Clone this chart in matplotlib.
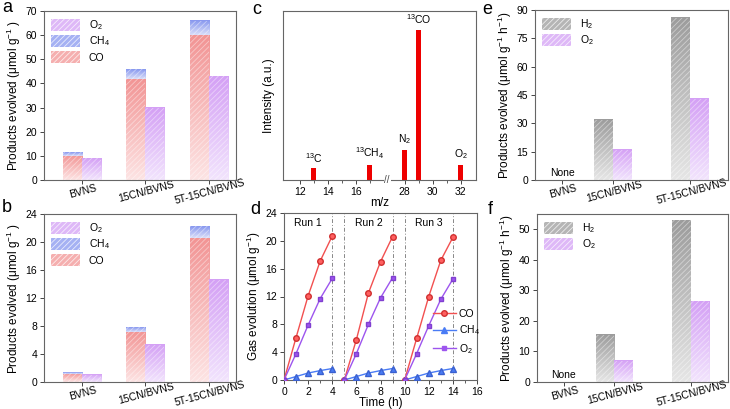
import numpy as np
import matplotlib
matplotlib.use('Agg')
import matplotlib.pyplot as plt
from matplotlib.colors import LinearSegmentedColormap
from matplotlib.patches import Patch
from matplotlib.lines import Line2D

plt.rcParams['font.family'] = ['Liberation Sans', 'DejaVu Sans']
plt.rcParams['mathtext.fontset'] = 'custom'
plt.rcParams['mathtext.rm'] = 'Liberation Sans'
plt.rcParams['mathtext.it'] = 'Liberation Sans:italic'
plt.rcParams['mathtext.default'] = 'regular'
plt.rcParams['hatch.linewidth'] = 0.6
plt.rcParams['axes.edgecolor'] = '#666666'
plt.rcParams['axes.linewidth'] = 0.8
plt.rcParams['xtick.color'] = '#444444'
plt.rcParams['ytick.color'] = '#444444'
plt.rcParams['xtick.labelcolor'] = 'black'
plt.rcParams['ytick.labelcolor'] = 'black'

# data
samples = ['BVNS', '15CN/BVNS', '5T-15CN/BVNS']

a_co = [10, 42, 60]
a_ch4 = [1.5, 4, 6]
a_o2 = [9, 30, 43]

b_co = [1.2, 7.2, 20.6]
b_ch4 = [0.15, 0.7, 1.7]
b_o2 = [1.05, 5.3, 14.6]

c_mz = [13, 17, 28, 29, 32]
c_int = [7, 9, 18, 89, 9]
c_lab = [r'$^{13}$C', r'$^{13}$CH$_4$', r'N$_2$', r'$^{13}$CO', r'O$_2$']
c_ticks = [12, 14, 16, 28, 30, 32]

d_time = [[0, 1, 2, 3, 4], [5, 6, 7, 8, 9], [10, 11, 12, 13, 14]]
d_co = [[0, 6.1, 12.1, 17.1, 20.7], [0, 5.8, 12.5, 17.0, 20.6], [0, 6.0, 12.0, 17.2, 20.5]]
d_ch4 = [[0, 0.5, 1.0, 1.35, 1.65], [0, 0.5, 1.0, 1.35, 1.65], [0, 0.5, 1.0, 1.35, 1.65]]
d_o2 = [[0, 3.8, 7.9, 11.7, 14.6], [0, 3.8, 8.0, 11.8, 14.7], [0, 3.8, 7.8, 11.6, 14.5]]
d_runs = ['Run 1', 'Run 2', 'Run 3']

e_h2 = [0, 32, 86]
e_o2 = [0, 16, 43]

f_h2 = [0, 15.5, 53]
f_o2 = [0, 7, 26.5]

# colours (top, bottom of gradient)
CO_C = ('#f29494', '#fde4e4')
CH4_C = ('#8797ef', '#d9def9')
O2_C = ('#d4a0f5', '#f2e4fd')
H2_C = ('#9c9c9c', '#e6e6e6')


def grad_bar(ax, x, bottom, height, width, cols):
    if height <= 0:
        return
    cmap = LinearSegmentedColormap.from_list('g', [cols[1], cols[0]])
    grad = np.linspace(0, 1, 100).reshape(-1, 1)
    ax.imshow(grad, extent=[x - width / 2, x + width / 2, bottom, bottom + height],
              origin='lower', aspect='auto', cmap=cmap, zorder=2)
    ax.bar(x, height, width, bottom=bottom, facecolor='none',
           edgecolor=(1, 1, 1, 0.45), hatch='//////', lw=0, zorder=3)


def leg_patch(cols):
    return Patch(facecolor=cols[0], edgecolor=(1, 1, 1, 0.45), hatch='//////', lw=0, alpha=0.75)


def style_ax(ax):
    ax.tick_params(direction='out', length=3, width=0.7, labelsize=7.5, pad=2)
    ax.tick_params(which='minor', direction='out', length=1.8, width=0.6)


def rot_labels(ax):
    ax.set_xticklabels(samples, rotation=15, ha='center', va='top', rotation_mode='anchor')
    ax.tick_params(axis='x', pad=3)


fig = plt.figure(figsize=(7.3, 4.09), dpi=100)


def add_ax(l, t, r, b):
    return fig.add_axes([l / 730, 1 - b / 409, (r - l) / 730, (b - t) / 409])


# ---- a, b: stacked CO2 reduction bars
def co2_panel(ax, co, ch4, o2, ymax, step):
    x = np.arange(len(samples))
    w = 0.3
    for i in range(len(samples)):
        grad_bar(ax, x[i] - w / 2, 0, co[i], w, CO_C)
        grad_bar(ax, x[i] - w / 2, co[i], ch4[i], w, CH4_C)
        grad_bar(ax, x[i] + w / 2, 0, o2[i], w, O2_C)
    ax.set_xlim(-0.6, 2.43)
    ax.set_ylim(0, ymax)
    ax.set_yticks(np.arange(0, ymax + 0.1, step))
    ax.set_xticks(x)
    rot_labels(ax)
    ax.set_ylabel('Products evolved (μmol g$^{-1}$ )', fontsize=8.5, labelpad=2)
    handles = [leg_patch(O2_C), leg_patch(CH4_C), leg_patch(CO_C)]
    ax.legend(handles, [r'O$_2$', r'CH$_4$', 'CO'], loc='upper left', frameon=False,
              fontsize=7.5, handlelength=2.8, handleheight=1.4, labelspacing=0.25,
              borderaxespad=0.3)
    style_ax(ax)


ax_a = add_ax(44, 11, 236, 180)
co2_panel(ax_a, a_co, a_ch4, a_o2, 70, 10)
ax_b = add_ax(44, 214, 236, 382)
co2_panel(ax_b, b_co, b_ch4, b_o2, 24, 4)

# ---- c: mass spectrum with broken axis
ax_c = add_ax(283, 11, 476, 180)
pos = [m if m < 20 else m - 8.5 for m in c_mz]
ax_c.bar(pos, c_int, 0.35, color='#ee0000', zorder=2)
for p, v, t in zip(pos, c_int, c_lab):
    ax_c.text(p, v + 2, t, ha='center', va='bottom', fontsize=7.5)
ax_c.set_xlim(10.8, 24.6)
ax_c.set_ylim(0, 100)
ax_c.set_yticks([])
tpos = [m if m < 20 else m - 8.5 for m in c_ticks]
ax_c.set_xticks(tpos)
ax_c.set_xticklabels([str(t) for t in c_ticks])
ax_c.set_xticks([13, 15, 17, 20.5, 22.5], minor=True)
ax_c.text(18.25, 0, '//', ha='center', va='center', fontsize=7, color='#444444',
          bbox=dict(facecolor='white', edgecolor='none', pad=0.5), clip_on=False)
ax_c.set_xlabel('m/z', fontsize=8.5, labelpad=0)
ax_c.set_ylabel('Intensity (a.u.)', fontsize=8.5, labelpad=6)
style_ax(ax_c)

# ---- d: cycling
ax_d = add_ax(284, 213, 477, 380)
for k in range(3):
    ax_d.plot(d_time[k], d_co[k], '-o', color='#f25050', mfc='#ff6060', mec='#d03030',
              ms=4, lw=1, zorder=3)
    ax_d.plot(d_time[k], d_ch4[k], '-^', color='#4a7cf5', mfc='#4a7cf5', mec='#3a60d0',
              ms=4, lw=1, zorder=3)
    ax_d.plot(d_time[k], d_o2[k], '-s', color='#9d55ee', mfc='#9d55ee', mec='#8040d0',
              ms=3.5, lw=1, zorder=3)
    ax_d.text(np.mean(d_time[k][:-1]) + 0.5, 22.6, d_runs[k], ha='center', va='center',
              fontsize=7.5)
for xv in [4, 5, 9, 10, 14]:
    ax_d.axvline(xv, color='#888888', lw=0.7, ls=(0, (4, 2, 1, 2)), zorder=1)
ax_d.set_xlim(0, 16)
ax_d.set_ylim(0, 24)
ax_d.set_xticks(np.arange(0, 17, 2))
ax_d.set_xticks(np.arange(1, 16, 2), minor=True)
ax_d.set_yticks(np.arange(0, 25, 4))
ax_d.set_xlabel('Time (h)', fontsize=8.5, labelpad=0)
ax_d.set_ylabel('Gas evolution (μmol g$^{-1}$)', fontsize=8.5, labelpad=2)
hd = [Line2D([], [], color='#f25050', marker='o', mfc='#ff6060', mec='#d03030', ms=4, lw=1),
      Line2D([], [], color='#4a7cf5', marker='^', ms=4, lw=1),
      Line2D([], [], color='#9d55ee', marker='s', ms=3.5, lw=1)]
ax_d.legend(hd, ['CO', r'CH$_4$', r'O$_2$'], loc='lower left', bbox_to_anchor=(0.75, 0.12),
            frameon=False, fontsize=7.5, handlelength=2.2, labelspacing=0.45,
            borderaxespad=0, handletextpad=0.3)
style_ax(ax_d)


# ---- e, f: water splitting
def ws_panel(ax, h2, o2, ymax, step):
    x = [0, 1, 2.51]
    w = 0.37
    for i in range(len(samples)):
        grad_bar(ax, x[i] - w / 2, 0, h2[i], w, H2_C)
        grad_bar(ax, x[i] + w / 2, 0, o2[i], w, O2_C)
    ax.text(x[0], ymax * 0.012, 'None', ha='center', va='bottom', fontsize=7.5)
    ax.set_xlim(-0.53, 3.25)
    ax.set_ylim(0, ymax)
    ax.set_yticks(np.arange(0, ymax + 0.1, step))
    ax.set_xticks(x)
    rot_labels(ax)
    ax.set_ylabel('Products evolved (μmol g$^{-1}$ h$^{-1}$)', fontsize=8.5, labelpad=2)
    ax.legend([leg_patch(H2_C), leg_patch(O2_C)], [r'H$_2$', r'O$_2$'], loc='upper left',
              frameon=False, fontsize=7.5, handlelength=2.8, handleheight=1.4,
              labelspacing=0.25, borderaxespad=0.3)
    style_ax(ax)


ax_e = add_ax(535, 10, 728, 180)
ws_panel(ax_e, e_h2, e_o2, 90, 15)
ax_f = add_ax(537, 214, 728, 382)
ws_panel(ax_f, f_h2, f_o2, 55, 10)

# panel letters
for lab, xp, yp in [('a', 2, 8), ('b', 2, 208), ('c', 252, 10), ('d', 250, 210),
                    ('e', 482, 10), ('f', 488, 210)]:
    fig.text(xp / 730, 1 - yp / 409, lab, fontsize=13, va='center', ha='left')

fig.savefig('out.png', dpi=100)
